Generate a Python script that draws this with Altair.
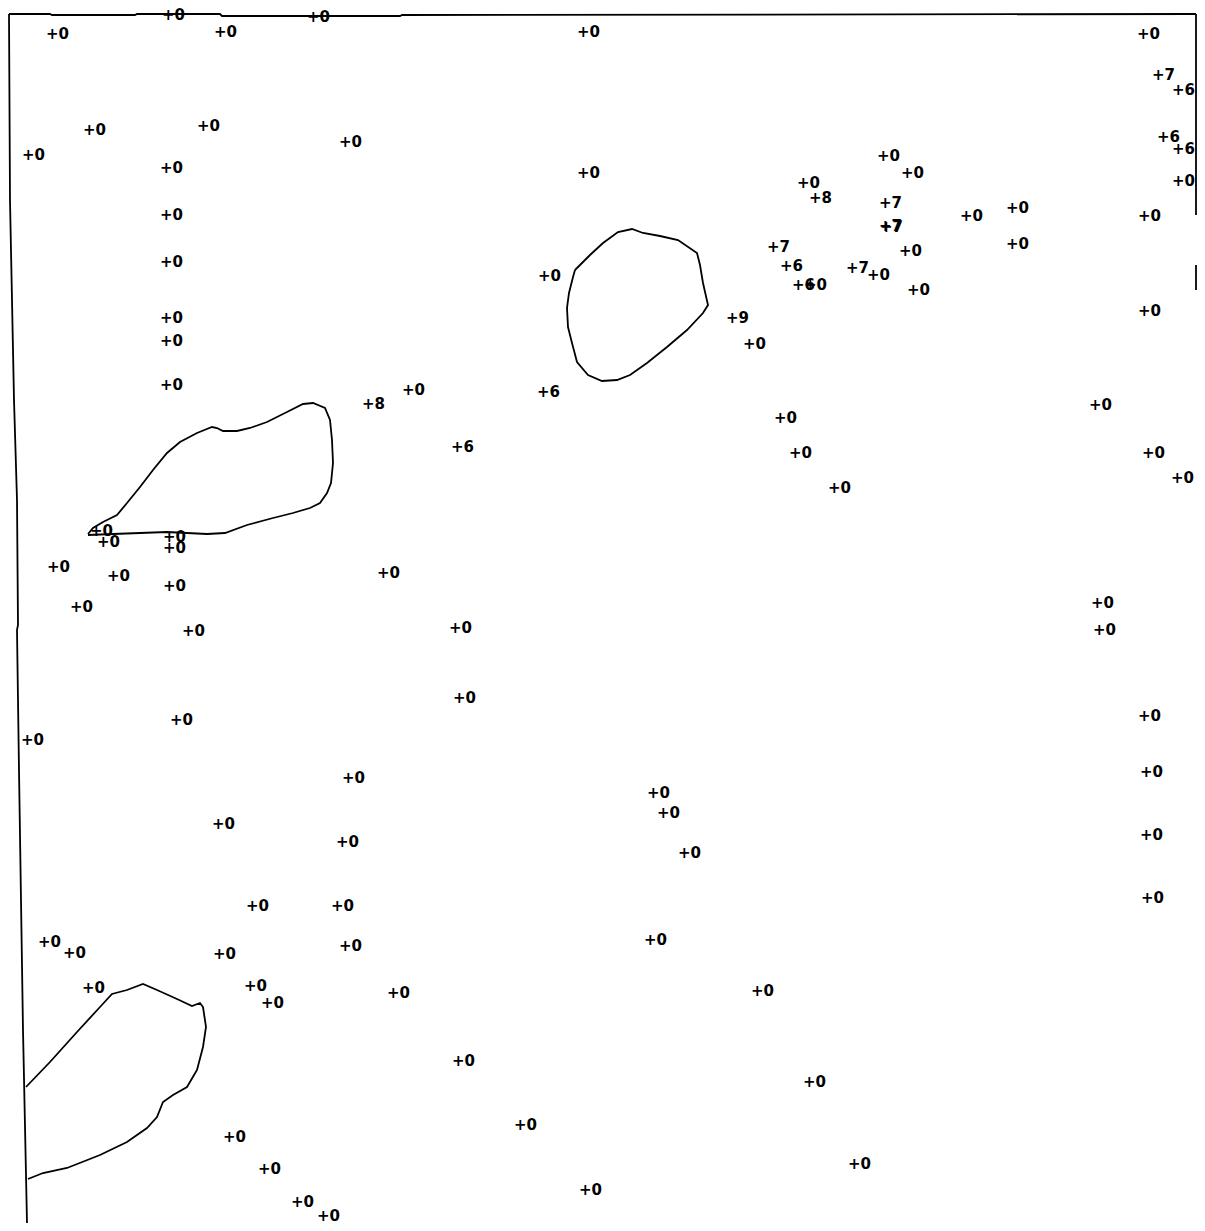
import altair as alt
import pandas as pd

# ---- point labels: left edge of "+" (x), vertical centre (y), text ----
label_x = [46, 162, 214, 307, 577, 1137, 1152, 1172,
           83, 197, 22, 339, 160, 577, 1157, 1172, 1172,
           877, 901, 797, 809, 879, 879, 880, 960, 1006, 1138,
           160, 767, 1006, 899, 160, 780, 846, 867, 538, 792, 804, 907,
           726, 1138, 160, 160, 743, 160,
           362, 402, 537, 451, 774, 789, 828, 1089, 1142, 1171,
           90, 97, 163, 163, 47, 107, 163, 70, 182, 377, 449, 453, 170, 21,
           1091, 1093, 1138, 1140, 1140, 1141,
           342, 212, 336, 246, 331, 38, 63, 213, 339, 82, 244, 261, 387,
           647, 657, 678, 644, 751, 803, 848,
           452, 514, 223, 258, 291, 317, 579]
label_y = [34, 15, 32, 17, 32, 34, 75, 90,
           130, 126, 155, 142, 168, 173, 137, 149, 181,
           156, 173, 183, 198, 203, 226, 227, 216, 208, 216,
           215, 247, 244, 251, 262, 266, 268, 275, 276, 285, 285, 290,
           318, 311, 318, 341, 344, 385,
           404, 390, 392, 447, 418, 453, 488, 405, 453, 478,
           531, 542, 537, 548, 567, 576, 586, 607, 631, 573, 628, 698, 720, 740,
           603, 630, 716, 772, 835, 898,
           778, 824, 842, 906, 906, 942, 953, 954, 946, 988, 986, 1003, 993,
           793, 813, 853, 940, 991, 1082, 1164,
           1061, 1125, 1137, 1169, 1202, 1216, 1190]
label_text = ["+0", "+0", "+0", "+0", "+0", "+0", "+7", "+6",
              "+0", "+0", "+0", "+0", "+0", "+0", "+6", "+6", "+0",
              "+0", "+0", "+0", "+8", "+7", "+7", "+7", "+0", "+0", "+0",
              "+0", "+7", "+0", "+0", "+0", "+6", "+7", "+0", "+0", "+6", "+0", "+0",
              "+9", "+0", "+0", "+0", "+0", "+0",
              "+8", "+0", "+6", "+6", "+0", "+0", "+0", "+0", "+0", "+0",
              "+0", "+0", "+0", "+0", "+0", "+0", "+0", "+0", "+0", "+0", "+0", "+0", "+0", "+0",
              "+0", "+0", "+0", "+0", "+0", "+0",
              "+0", "+0", "+0", "+0", "+0", "+0", "+0", "+0", "+0", "+0", "+0", "+0", "+0",
              "+0", "+0", "+0", "+0", "+0", "+0", "+0",
              "+0", "+0", "+0", "+0", "+0", "+0", "+0"]

# ---- contour curves ----
contour_a_x = [88, 93, 103, 117, 127, 140, 153, 167, 180, 197, 212, 217, 223, 237, 250, 267,
               287, 303, 313, 325, 330, 332, 333, 331, 327, 320, 310, 293, 273, 247, 225,
               207, 187, 167, 140, 113, 88]
contour_a_y = [534, 528, 522, 515, 503, 487, 470, 453, 442, 433, 427, 428, 431, 431, 428, 422,
               412, 404, 403, 408, 420, 440, 463, 483, 493, 503, 508, 513, 518, 525, 533,
               534, 533, 532, 533, 534, 535]

contour_b_x = [575, 590, 603, 618, 632, 643, 660, 678, 697, 700, 703, 708, 703, 687, 667, 647,
               630, 617, 602, 588, 577, 572, 568, 567, 569, 573, 575]
contour_b_y = [270, 255, 243, 232, 229, 233, 236, 240, 253, 265, 283, 305, 313, 330, 347, 363,
               375, 380, 381, 375, 362, 343, 327, 308, 293, 277, 270]

contour_c_x = [26, 50, 77, 100, 112, 127, 143, 157, 177, 192, 200, 203, 206, 203, 197, 187,
               173, 163, 157, 147, 127, 100, 67, 43, 28]
contour_c_y = [1087, 1062, 1032, 1007, 994, 990, 984, 990, 999, 1006, 1003, 1007, 1027, 1047,
               1070, 1087, 1095, 1102, 1117, 1128, 1142, 1155, 1168, 1173, 1179]

# ---- frame lines ----
left_border_x = [9, 10, 14, 17, 18, 17, 19, 23, 27]
left_border_y = [14, 200, 400, 500, 625, 630, 770, 1030, 1223]
top_border_x = [9, 50, 52, 135, 137, 220, 222, 400, 402, 1196]
top_border_y = [14, 14, 15, 15, 14, 14, 16, 16, 15, 14]
right_border_x = [1196, 1196]
right_border_y = [14, 215]
right_tick_x = [1196, 1196]
right_tick_y = [265, 290]

# ---- build tables ----
labels = pd.DataFrame({"x": label_x, "y": label_y, "t": label_text})

rows = []
def add(name, xs, ys):
    for i, (a, b) in enumerate(zip(xs, ys)):
        rows.append({"g": name, "i": i, "x": a, "y": b})

add("A", contour_a_x, contour_a_y)
add("B", contour_b_x, contour_b_y)
add("C", contour_c_x, contour_c_y)
add("L", left_border_x, left_border_y)
add("T", top_border_x, top_border_y)
add("R", right_border_x, right_border_y)
add("R2", right_tick_x, right_tick_y)
lines = pd.DataFrame(rows)

# page pixel coordinates: plot area starts at the 8px page margin
xs = alt.Scale(domain=[8, 1197], nice=False, zero=False)
ys = alt.Scale(domain=[8, 1223], nice=False, zero=False, reverse=True)

line_layer = alt.Chart(lines).mark_line(color="black", strokeWidth=1.8).encode(
    x=alt.X("x:Q", scale=xs, axis=None),
    y=alt.Y("y:Q", scale=ys, axis=None),
    detail="g:N",
    order="i:Q",
)

text_layer = alt.Chart(labels).mark_text(
    align="left", baseline="middle", font="DejaVu Sans", fontSize=15,
    fontWeight="bold", color="black"
).encode(
    x=alt.X("x:Q", scale=xs, axis=None),
    y=alt.Y("y:Q", scale=ys, axis=None),
    text="t:N",
)

chart = alt.layer(line_layer, text_layer).properties(
    width=1189, height=1215,
    autosize=alt.AutoSizeParams(type="none"),
    padding=0,
).configure_view(stroke=None)

chart.save("out.html", embed_options={"renderer": "svg", "actions": False})
